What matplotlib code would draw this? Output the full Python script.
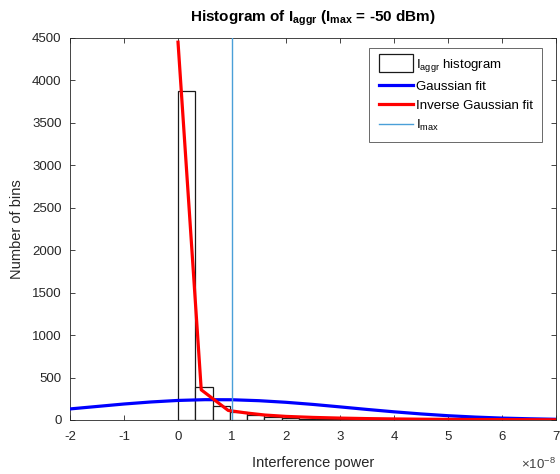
import matplotlib
matplotlib.use("Agg")
import matplotlib.pyplot as plt
from matplotlib.legend_handler import HandlerPatch
from matplotlib.patches import Rectangle

plt.rcParams['font.family'] = ['Liberation Sans', 'DejaVu Sans']
plt.rcParams['mathtext.fontset'] = 'custom'
plt.rcParams['mathtext.rm'] = 'Liberation Sans'
plt.rcParams['mathtext.it'] = 'Liberation Sans'
plt.rcParams['mathtext.bf'] = 'Liberation Sans:bold'

# Histogram (x in units of 1e-8)
bin_width = 0.32
bin_counts = [3875, 385, 160, 95, 60, 38, 25, 17, 12, 8, 6, 4, 3, 2, 2, 1, 1, 1]
bin_edges = [i * bin_width for i in range(len(bin_counts) + 1)]

# Gaussian fit
gauss_x = [-2, -1.5, -1, -0.5, 0, 0.5, 1, 1.5, 2, 2.5, 3, 3.5, 4, 4.5, 5, 5.5, 6, 6.5, 7]
gauss_y = [130, 159, 188, 212, 230, 239, 238, 227, 208, 183, 154, 124, 96, 71, 50, 34, 22, 14, 8]

# Inverse Gaussian fit
invg_x = [0.0, 0.43, 0.93, 1.27, 1.61, 2.0, 2.5, 3.0, 3.5, 4.0, 4.5, 5.0, 5.5, 6.0, 6.5, 7.0]
invg_y = [4450, 355, 112, 82, 58, 42, 30, 22, 16, 12, 9, 7, 5, 4, 3, 2]

imax = 1.0  # -50 dBm = 1e-8 W

x_ticks = [-2, -1, 0, 1, 2, 3, 4, 5, 6, 7]
y_ticks = [0, 500, 1000, 1500, 2000, 2500, 3000, 3500, 4000, 4500]

fig = plt.figure(figsize=(5.6, 4.74), dpi=100)
ax = fig.add_axes([0.125, 0.114, 0.868, 0.806])

ax.hist(bin_edges[:-1], bins=bin_edges, weights=bin_counts, histtype='bar',
        facecolor='white', edgecolor='#1a1a1a', linewidth=0.9,
        label=r'I$_{aggr}$ histogram', zorder=2)
ax.plot(gauss_x, gauss_y, color='#0000FF', linewidth=2.3, label='Gaussian fit', zorder=3)
ax.plot(invg_x, invg_y, color='#FF0000', linewidth=2.3, label='Inverse Gaussian fit', zorder=4)
ax.axvline(imax, color='#4A9FD8', linewidth=1.0, label=r'I$_{max}$', zorder=5)

ax.set_xlim(-2, 7)
ax.set_ylim(0, 4500)
ax.set_xticks(x_ticks)
ax.set_yticks(y_ticks)
ax.set_xticklabels([str(t) for t in x_ticks])
ax.set_yticklabels([str(t) for t in y_ticks])
ax.tick_params(direction='in', top=True, right=True, length=3.5, width=0.6,
               colors='#262626', labelsize=9.5)
ax.tick_params(axis='x', pad=8)
ax.tick_params(axis='y', pad=6)
for s in ax.spines.values():
    s.set_color('#262626')
    s.set_linewidth(0.6)

ax.set_xlabel('Interference power', fontsize=10.5, color='#262626', labelpad=9)
ax.set_ylabel('Number of bins', fontsize=10.5, color='#262626', labelpad=6)
ax.set_title(r'Histogram of I$_{\mathbf{aggr}}$ (I$_{\mathbf{max}}$ = -50 dBm)',
             fontsize=11, fontweight='bold', pad=12)
fig.text(0.993, 0.004, r'$\times$10$^{-8}$', ha='right', va='bottom',
         fontsize=9.5, color='#404040')


def tall_rect(legend, orig_handle, xdescent, ydescent, width, height, fontsize):
    return Rectangle((-xdescent, -ydescent - 0.45 * height), width, height * 1.9)


leg = ax.legend(loc='upper right', bbox_to_anchor=(0.98, 0.985), fontsize=9.5,
                frameon=True, fancybox=False, edgecolor='#262626',
                handlelength=2.6, handletextpad=0.25, borderpad=0.7,
                labelspacing=0.5, borderaxespad=0.3,
                handler_map={Rectangle: HandlerPatch(patch_func=tall_rect)})
leg.get_frame().set_linewidth(0.6)

fig.savefig('out.png', dpi=100)
